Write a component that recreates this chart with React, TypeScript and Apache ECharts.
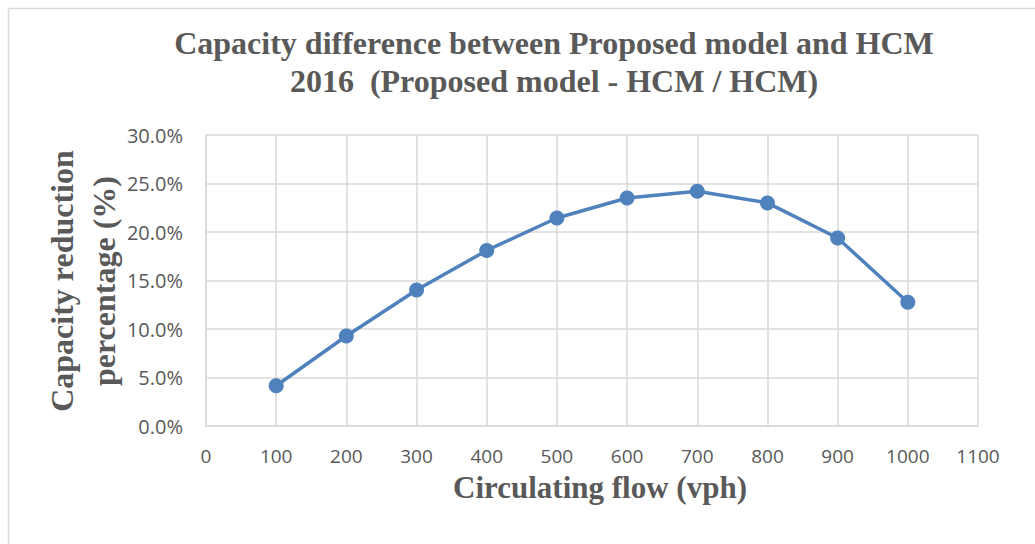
import React, { useEffect, useRef } from "react";
import * as echarts from "echarts";

const flows = [100, 200, 300, 400, 500, 600, 700, 800, 900, 1000];
const reductions = [0.0415, 0.0928, 0.1402, 0.181, 0.2144, 0.235, 0.242, 0.23, 0.1938, 0.1275];
const titleLines = ["Capacity difference between Proposed model and HCM", "2016  (Proposed model - HCM / HCM)"];
const xName = "Circulating flow (vph)";
const yNameLines = ["Capacity reduction", "percentage (%)"];

const TEXT = "#595959";
const GRID = "#d9d9d9";
const SERIF = "'Liberation Serif', 'Times New Roman', serif";
const SANS = "'Open Sans', 'Noto Sans', sans-serif";

export default function App() {
  const ref = useRef<HTMLDivElement>(null);
  useEffect(() => {
    if (!ref.current) return;
    const chart = echarts.init(ref.current, undefined, { renderer: "svg" });
    chart.setOption({
      animation: false,
      backgroundColor: "#ffffff",
      grid: { left: 206, right: 57, top: 135, bottom: 118, containLabel: false },
      xAxis: {
        type: "value",
        min: 0,
        max: 1100,
        interval: 100,
        axisLine: { show: true, lineStyle: { color: GRID, width: 1.5 } },
        axisTick: { show: false },
        splitLine: { show: true, lineStyle: { color: GRID, width: 1.5 } },
        axisLabel: {
          color: TEXT,
          fontFamily: SANS,
          fontSize: 19,
          margin: 20,
          lineHeight: 20,
          formatter: (v: number) => String(v),
        },
      },
      yAxis: {
        type: "value",
        min: 0,
        max: 0.3,
        interval: 0.05,
        axisLine: { show: true, lineStyle: { color: GRID, width: 1.5 } },
        axisTick: { show: false },
        splitLine: { show: true, lineStyle: { color: GRID, width: 1.5 } },
        axisLabel: {
          color: TEXT,
          fontFamily: SANS,
          fontSize: 20,
          margin: 23,
          formatter: (v: number) => (v * 100).toFixed(1) + "%",
        },
      },
      series: [
        {
          type: "line",
          data: flows.map((f, i) => [f, reductions[i]]),
          symbol: "circle",
          symbolSize: 15,
          lineStyle: { color: "#4F81BD", width: 3.5 },
          itemStyle: { color: "#4F81BD" },
        },
      ],
      graphic: [
        {
          type: "line",
          shape: { x1: 8.5, y1: 8.5, x2: 1035, y2: 8.5 },
          style: { stroke: GRID, lineWidth: 1.5 },
        },
        {
          type: "line",
          shape: { x1: 8.5, y1: 8.5, x2: 8.5, y2: 544 },
          style: { stroke: GRID, lineWidth: 1.5 },
        },
        {
          type: "text",
          x: 554,
          y: 62,
          style: {
            text: titleLines.join("\n"),
            fill: TEXT,
            font: `bold 32px ${SERIF}`,
            lineHeight: 38,
            textAlign: "center",
            textVerticalAlign: "middle",
          },
        },
        {
          type: "text",
          x: 600,
          y: 487,
          style: {
            text: xName,
            fill: TEXT,
            font: `bold 31px ${SERIF}`,
            lineHeight: 31,
            textAlign: "center",
            textVerticalAlign: "middle",
          },
        },
        {
          type: "text",
          x: 83,
          y: 281,
          rotation: Math.PI / 2,
          style: {
            text: yNameLines.join("\n"),
            fill: TEXT,
            font: `bold 32px ${SERIF}`,
            lineHeight: 42,
            textAlign: "center",
            textVerticalAlign: "middle",
          },
        },
      ],
    });
    return () => chart.dispose();
  }, []);
  return (
    <div
      ref={ref}
      style={{ position: "fixed", left: 0, top: 0, width: 1035, height: 544 }}
    />
  );
}
